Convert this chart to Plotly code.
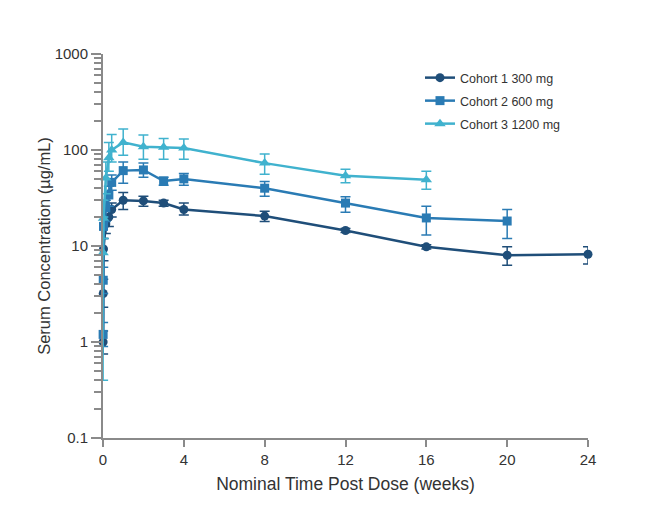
import plotly.graph_objects as go

# ---- data ----
weeks_c1 = [0.006, 0.012, 0.024, 0.14, 0.29, 0.43, 1, 2, 3, 4, 8, 12, 16, 20, 24]
conc_c1 = [1.0, 3.2, 9.3, 17, 20, 24, 30, 29.5, 28, 24, 20.5, 14.5, 9.8, 8.0, 8.2]
hi_c1 = [1.3, 4.5, 12, 21, 25, 28, 36, 33, 30, 28, 23, 15.2, 10.3, 9.8, 9.8]
lo_c1 = [0.75, 2.3, 7, 13.5, 16, 20, 24, 26, 26, 21, 18, 13.8, 9.3, 6.3, 6.5]

weeks_c2 = [0.006, 0.012, 0.024, 0.14, 0.29, 0.43, 1, 2, 3, 4, 8, 12, 16, 20]
conc_c2 = [1.2, 4.4, 16, 25, 34, 46, 61, 62, 47.5, 50, 40, 28, 19.6, 18.2]
hi_c2 = [1.6, 6, 20, 30, 42, 55, 75, 73, 52, 57, 47, 32.5, 26, 24]
lo_c2 = [0.9, 3.2, 12, 18, 26, 38, 45, 52, 43, 43, 33, 22.5, 13, 12]

weeks_c3 = [0.006, 0.024, 0.14, 0.29, 0.43, 1, 2, 3, 4, 8, 12, 16]
conc_c3 = [8.5, 19.5, 51, 83, 100, 120, 108, 107, 105, 73, 54, 49]
hi_c3 = [20, 30, 75, 120, 145, 165, 143, 132, 130, 91, 63, 60]
lo_c3 = [0.4, 12, 35, 60, 75, 88, 80, 80, 80, 56, 45.5, 39]

names = ["Cohort 1 300 mg", "Cohort 2 600 mg", "Cohort 3 1200 mg"]
colors = ["#1f4e79", "#2a7bb4", "#40b2ce"]
symbols = ["circle", "square", "triangle-up"]

x_ticks = [0, 4, 8, 12, 16, 20, 24]
y_ticks = [0.1, 1, 10, 100, 1000]
y_tick_labels = ["0.1", "1", "10", "100", "1000"]

series = [
    (weeks_c1, conc_c1, hi_c1, lo_c1),
    (weeks_c2, conc_c2, hi_c2, lo_c2),
    (weeks_c3, conc_c3, hi_c3, lo_c3),
]
legend_ids = ["legend", "legend2", "legend3"]
legend_y = [0.9375, 0.8776, 0.8177]

fig = go.Figure()
for (t, v, hi, lo), name, col, sym, lid in zip(series, names, colors, symbols, legend_ids):
    fig.add_trace(go.Scatter(
        x=t, y=v, name=name, mode="lines+markers", legend=lid,
        line=dict(color=col, width=2.5),
        marker=dict(color=col, size=9 if sym != "triangle-up" else 10, symbol=sym),
        error_y=dict(type="data", symmetric=False,
                     array=[h - a for h, a in zip(hi, v)],
                     arrayminus=[a - l for a, l in zip(v, lo)],
                     color=col, thickness=1.5, width=5),
        cliponaxis=False,
    ))

font_family = "Liberation Sans, Arial, sans-serif"
legend_common = dict(x=0.6536, xanchor="left", yanchor="middle",
                     font=dict(size=12.5, color="#333333", family=font_family),
                     bgcolor="rgba(0,0,0,0)")

fig.update_layout(
    width=648, height=531,
    margin=dict(l=95, r=68, t=46, b=101),
    paper_bgcolor="white", plot_bgcolor="white",
    font=dict(family=font_family, size=14, color="#333333"),
    showlegend=True,
    legend=dict(y=legend_y[0], **legend_common),
    legend2=dict(y=legend_y[1], **legend_common),
    legend3=dict(y=legend_y[2], **legend_common),
    xaxis=dict(
        range=[0, 24], tickvals=x_ticks, ticktext=[str(v) for v in x_ticks],
        showline=True, linecolor="#8a8a8a", linewidth=2,
        ticks="outside", ticklen=7, tickwidth=2, tickcolor="#8a8a8a",
        showgrid=False, zeroline=False,
        title=dict(text="Nominal Time Post Dose (weeks)", font=dict(size=17.5, color="#333333"), standoff=11),
        tickfont=dict(size=15, color="#333333"),
    ),
    yaxis=dict(
        type="log", range=[-1, 3], tickvals=y_ticks, ticktext=y_tick_labels,
        showline=True, linecolor="#8a8a8a", linewidth=2,
        ticks="outside", ticklen=10, tickwidth=2, tickcolor="#8a8a8a",
        minor=dict(ticks="outside", ticklen=7, tickwidth=2, tickcolor="#8a8a8a", dtick="D1", showgrid=False),
        showgrid=False, zeroline=False,
        title=dict(text="Serum Concentration (µg/mL)", font=dict(size=16.5, color="#333333"), standoff=0),
        tickfont=dict(size=15, color="#333333"),
    ),
)

fig.write_html("out.html")
